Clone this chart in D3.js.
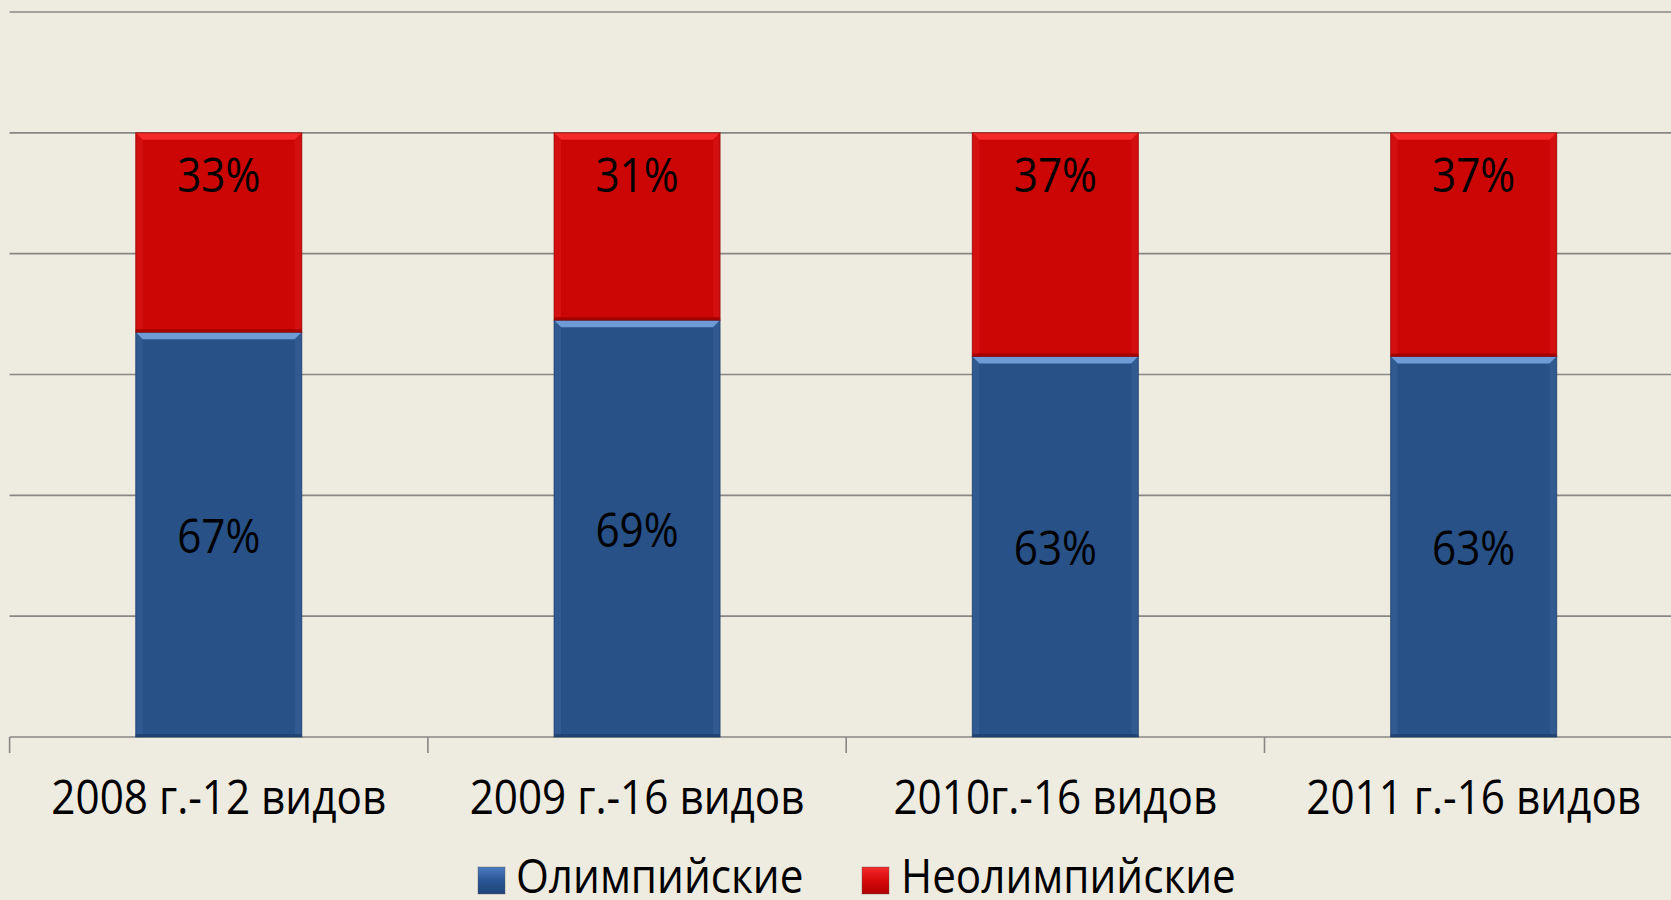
<!DOCTYPE html>
<html>
<head>
<meta charset="utf-8">
<script src="https://cdn.jsdelivr.net/npm/d3@7"></script>
<style>
  html, body { margin: 0; padding: 0; background: #EEEBE0; }
  svg { display: block; }
  text { font-family: "Open Sans", "Noto Sans", sans-serif; fill: #000; }
</style>
</head>
<body>
<svg id="chart" width="1671" height="900"></svg>
<script>
// ---- data ----
const categories = ["2008 г.-12 видов", "2009 г.-16 видов", "2010г.-16 видов", "2011 г.-16 видов"];
const olympic    = [0.67, 0.69, 0.63, 0.63];
const nonOlympic = [0.33, 0.31, 0.37, 0.37];
const olympicLabels    = ["67%", "69%", "63%", "63%"];
const nonOlympicLabels = ["33%", "31%", "37%", "37%"];
const seriesNames = ["Олимпийские", "Неолимпийские"];
const yTicks = [0, 0.2, 0.4, 0.6, 0.8, 1.0, 1.2];

// ---- layout ----
const W = 1671, H = 900;
const plot = { left: 9.6, right: 1682.8, top: 12, bottom: 737 };
const svg = d3.select("#chart");
svg.append("rect").attr("width", W).attr("height", H).attr("fill", "#EEEBE0");

const x = d3.scaleBand().domain(categories).range([plot.left, plot.right])
  .paddingInner(0.603).paddingOuter(0.3015);
const y = d3.scaleLinear().domain([0, 1.2]).range([plot.bottom, plot.top]);
const step = x.step();

const defs = svg.append("defs");
function grad(id, stops, vertical) {
  const g = defs.append("linearGradient").attr("id", id)
    .attr("x1", 0).attr("y1", 0).attr("x2", vertical ? 0 : 1).attr("y2", vertical ? 1 : 0);
  stops.forEach(s => g.append("stop").attr("offset", s[0]).attr("stop-color", s[1]));
}
grad("legBlue", [[0, "#4C7CC0"], [0.5, "#2A5596"], [1, "#1E4478"]], true);
grad("legRed", [[0, "#F42A2A"], [0.5, "#D80A0A"], [1, "#B00000"]], true);

// gridlines
svg.append("g").selectAll("line").data(yTicks.filter(d => d > 0)).join("line")
  .attr("x1", plot.left).attr("x2", W)
  .attr("y1", d => y(d)).attr("y2", d => y(d))
  .attr("stroke", "#878783").attr("stroke-width", 1.6);

// x axis
const xAxis = svg.append("g").attr("transform", `translate(0,${y(0)})`);
xAxis.append("line").attr("x1", plot.left).attr("x2", W).attr("y1", 0).attr("y2", 0)
  .attr("stroke", "#878783").attr("stroke-width", 1.6);
const boundaries = d3.range(categories.length + 1).map(i => plot.left + i * step);
xAxis.selectAll("line.tick").data(boundaries).join("line").attr("class", "tick")
  .attr("x1", d => d).attr("x2", d => d).attr("y1", 0).attr("y2", 16)
  .attr("stroke", "#878783").attr("stroke-width", 1.6);

// stacked data
const rows = categories.map((c, i) => ({ cat: c, olympic: olympic[i], nonOlympic: nonOlympic[i] }));
const stack = d3.stack().keys(["olympic", "nonOlympic"])(rows);
const palette = {
  olympic:    { base: "#275187", light: "#6E9BD6", dark: "#1A3A66", edge: "#355E94" },
  nonOlympic: { base: "#CC0505", light: "#F42A2A", dark: "#8E0000", edge: "#D71414" }
};

function bevelBar(g, x0, x1, y0, y1, p) {
  const b = 7;
  g.append("rect").attr("x", x0).attr("y", y0).attr("width", x1 - x0).attr("height", y1 - y0)
    .attr("fill", p.base);
  g.append("path").attr("d", `M${x0},${y0}L${x1},${y0}L${x1 - b},${y0 + b}L${x0 + b},${y0 + b}Z`)
    .attr("fill", p.light);
  g.append("path").attr("d", `M${x0},${y0}L${x0 + b},${y0 + b}L${x0 + b},${y1 - 3}L${x0},${y1}Z`)
    .attr("fill", p.edge).attr("opacity", 0.7);
  g.append("path").attr("d", `M${x1},${y0}L${x1 - b},${y0 + b}L${x1 - b},${y1 - 3}L${x1},${y1}Z`)
    .attr("fill", p.edge).attr("opacity", 0.7);
  g.append("rect").attr("x", x0).attr("y", y1 - 3).attr("width", x1 - x0).attr("height", 3)
    .attr("fill", p.dark).attr("opacity", 0.6);
  g.append("rect").attr("x", x0).attr("y", y0).attr("width", x1 - x0).attr("height", y1 - y0)
    .attr("fill", "none").attr("stroke", p.dark).attr("stroke-opacity", 0.55).attr("stroke-width", 1.2);
}

const barsG = svg.append("g");
stack.forEach(layer => {
  layer.forEach(d => {
    const x0 = x(d.data.cat), x1 = x0 + x.bandwidth();
    bevelBar(barsG, x0, x1, y(d[1]), y(d[0]), palette[layer.key]);
  });
});

// data labels
const labelSize = 48;
const capH = labelSize * 0.714;
svg.append("g").selectAll("text").data(stack[0]).join("text")
  .attr("x", d => x(d.data.cat) + x.bandwidth() / 2)
  .attr("y", d => (y(d[0]) + y(d[1])) / 2 + capH / 2 + 1)
  .attr("text-anchor", "middle").attr("font-size", labelSize)
  .text((d, i) => olympicLabels[i]);
svg.append("g").selectAll("text").data(stack[1]).join("text")
  .attr("x", d => x(d.data.cat) + x.bandwidth() / 2)
  .attr("y", d => y(d[1]) + 59)
  .attr("text-anchor", "middle").attr("font-size", labelSize)
  .text((d, i) => nonOlympicLabels[i]);

// category labels
svg.append("g").selectAll("text").data(categories).join("text")
  .attr("x", d => x(d) + x.bandwidth() / 2).attr("y", 814)
  .attr("text-anchor", "middle").attr("font-size", 48)
  .text(d => d);

// legend
const leg = svg.append("g");
const legItems = [
  { name: seriesNames[0], fill: "url(#legBlue)", sx: 478, tx: 516 },
  { name: seriesNames[1], fill: "url(#legRed)", sx: 862, tx: 901 }
];
legItems.forEach(it => {
  leg.append("rect").attr("x", it.sx).attr("y", 867).attr("width", 27).attr("height", 27)
    .attr("fill", it.fill).attr("stroke", "#555").attr("stroke-opacity", 0.4);
  leg.append("text").attr("x", it.tx).attr("y", 893).attr("font-size", 48).text(it.name);
});

// horizontal compression to mimic the narrower original face
svg.selectAll("text").each(function () {
  const len = this.getComputedTextLength();
  d3.select(this).attr("textLength", len * 0.88).attr("lengthAdjust", "spacingAndGlyphs");
});
</script>
</body>
</html>
